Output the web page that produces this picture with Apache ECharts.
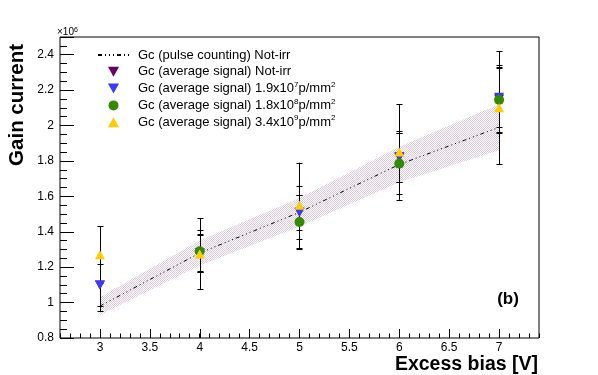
<!DOCTYPE html>
<html>
<head>
<meta charset="utf-8">
<script src="https://cdn.jsdelivr.net/npm/echarts@6/dist/echarts.min.js"></script>
<style>
html, body { margin: 0; padding: 0; background: #fff; }
#chart { width: 598px; height: 375px; }
</style>
</head>
<body>
<div id="chart"></div>
<script>
// bias points (V) and gain (x10^6)
var biasX = [3, 4, 5, 6, 7];
var pulseGain = [0.98, 1.28, 1.51, 1.78, 1.99];
var pulseErr = [0.05, 0.07, 0.08, 0.10, 0.13];

var notIrrGain = [1.10, 1.28, 1.51, 1.82, 2.15];
var notIrrErr = [0.12, 0.10, 0.10, 0.14, 0.19];

var fluence7Gain = [1.10, 1.28, 1.51, 1.825, 2.16];
var fluence7Err = [0.15, 0.11, 0.15, 0.145, 0.17];

var fluence8X = [4, 5, 6, 7];
var fluence8Gain = [1.29, 1.455, 1.785, 2.145];
var fluence8Err = [0.12, 0.155, 0.17, 0.18];

var fluence9Gain = [1.27, 1.275, 1.55, 1.85, 2.10];
var fluence9Err = [0.16, 0.20, 0.24, 0.27, 0.32];

var seriesNames = [
    "Gc (pulse counting) Not-irr",
    "Gc (average signal) Not-irr",
    "Gc (average signal) 1.9x10^7p/mm^2",
    "Gc (average signal) 1.8x10^8p/mm^2",
    "Gc (average signal) 3.4x10^9p/mm^2"
];
var legendLabels = {};
legendLabels[seriesNames[0]] = "Gc (pulse counting) Not-irr";
legendLabels[seriesNames[1]] = "Gc (average signal) Not-irr";
legendLabels[seriesNames[2]] = "Gc (average signal) 1.9x10{sup|7}p/mm{sup|2}";
legendLabels[seriesNames[3]] = "Gc (average signal) 1.8x10{sup|8}p/mm{sup|2}";
legendLabels[seriesNames[4]] = "Gc (average signal) 3.4x10{sup|9}p/mm{sup|2}";

var FONT = "Liberation Sans, Arial, Helvetica, sans-serif";

function points(x, y) {
    var out = [];
    for (var i = 0; i < x.length; i++) out.push([x[i], y[i]]);
    return out;
}
function errRows(x, y, e) {
    var out = [];
    for (var i = 0; i < x.length; i++) out.push([x[i], y[i] - e[i], y[i] + e[i]]);
    return out;
}

// dither pattern like the ROOT fill style
var pat = document.createElement("canvas");
pat.width = 2; pat.height = 2;
var pc = pat.getContext("2d");
pc.fillStyle = "#dccadc";
pc.fillRect(0, 0, 1, 1);
pc.fillRect(1, 1, 1, 1);

function bandItem(params, api) {
    var top = [], bot = [];
    for (var i = 0; i < biasX.length; i++) {
        top.push(api.coord([biasX[i], pulseGain[i] + pulseErr[i]]));
        bot.unshift(api.coord([biasX[i], pulseGain[i] - pulseErr[i]]));
    }
    return {
        type: "polygon",
        shape: { points: top.concat(bot) },
        style: { fill: { image: pat, repeat: "repeat" }, stroke: null }
    };
}

function errorBarItem(params, api) {
    var x = api.value(0);
    var lo = api.coord([x, api.value(1)]);
    var hi = api.coord([x, api.value(2)]);
    var px = Math.round(lo[0]) + 0.5;
    var st = { stroke: "#000", lineWidth: 1 };
    return {
        type: "group",
        children: [
            { type: "line", shape: { x1: px, y1: lo[1], x2: px, y2: hi[1] }, style: st },
            { type: "line", shape: { x1: px - 3, y1: Math.round(lo[1]) + 0.5, x2: px + 3, y2: Math.round(lo[1]) + 0.5 }, style: st },
            { type: "line", shape: { x1: px - 3, y1: Math.round(hi[1]) + 0.5, x2: px + 3, y2: Math.round(hi[1]) + 0.5 }, style: st }
        ]
    };
}

function errSeries(x, y, e) {
    return {
        type: "custom", xAxisIndex: 0, yAxisIndex: 0,
        renderItem: errorBarItem,
        encode: { x: 0, y: [1, 2] },
        data: errRows(x, y, e),
        silent: true
    };
}

var TRI_DOWN = "path://M0,0L10,0L5,9Z";
var TRI_UP = "path://M5,0L10,9L0,9Z";

var chart = echarts.init(document.getElementById("chart"));
var option = {
    animation: false,
    backgroundColor: "#fff",
    textStyle: { fontFamily: FONT },
    grid: [
        { left: 60, right: 59, top: 37, bottom: 37, show: true, borderColor: "#000", borderWidth: 1, backgroundColor: "transparent" },
        { left: 100, right: 99, top: 37, bottom: 37, show: false }
    ],
    xAxis: [
        {
            gridIndex: 0, type: "value", min: 2.6, max: 7.4, interval: 0.1,
            axisLine: { show: false },
            axisTick: { inside: true, length: 4.5, lineStyle: { color: "#000" } },
            axisLabel: { show: false },
            splitLine: { show: false }
        },
        {
            gridIndex: 1, type: "value", min: 3, max: 7, interval: 0.5,
            axisLine: { show: false },
            axisTick: { inside: true, length: 9, lineStyle: { color: "#000" } },
            axisLabel: { color: "#000", fontSize: 12, fontFamily: FONT, margin: 4 },
            splitLine: { show: false }
        }
    ],
    yAxis: [
        {
            gridIndex: 0, type: "value", position: "left", min: 0.8, max: 2.5, interval: 0.2,
            axisLine: { show: false },
            axisTick: { inside: true, length: 14, lineStyle: { color: "#000" } },
            axisLabel: {
                color: "#000", fontSize: 12, fontFamily: FONT, margin: 6,
                formatter: function (v) { return v > 2.45 ? "" : String(Math.round(v * 10) / 10); }
            },
            splitLine: { show: false }
        },
        {
            gridIndex: 0, type: "value", position: "left", min: 0.8, max: 2.5, interval: 0.05,
            axisLine: { show: false },
            axisTick: { inside: true, length: 7, lineStyle: { color: "#000" } },
            axisLabel: { show: false },
            splitLine: { show: false }
        },
        {
            gridIndex: 1, type: "value", min: 0, max: 1, show: false
        }
    ],
    legend: {
        orient: "vertical",
        left: 97, top: 47, padding: 0,
        itemWidth: 31, itemHeight: 10, itemGap: 0.8,
        data: [
            { name: seriesNames[0], itemStyle: { opacity: 0 } },
            seriesNames[1], seriesNames[2], seriesNames[3], seriesNames[4]
        ],
        formatter: function (name) { return legendLabels[name]; },
        textStyle: {
            color: "#000", fontSize: 13, fontFamily: FONT, lineHeight: 16, padding: [0, 0, 0, 4],
            rich: { sup: { fontSize: 8, lineHeight: 8, verticalAlign: "top", fontFamily: FONT, color: "#000" } }
        }
    },
    series: [
        {
            type: "custom", xAxisIndex: 0, yAxisIndex: 0,
            renderItem: bandItem, data: [0], silent: true, z: 1
        },
        {
            name: seriesNames[0], type: "line", xAxisIndex: 0, yAxisIndex: 0,
            data: points(biasX, pulseGain), symbol: "none",
            lineStyle: { color: "#000", width: 1, type: [4, 3, 1, 3, 1, 3, 1, 3] },
            itemStyle: { color: "#000" }, z: 2
        },
        errSeries(biasX, notIrrGain, notIrrErr),
        errSeries(biasX, fluence7Gain, fluence7Err),
        errSeries(fluence8X, fluence8Gain, fluence8Err),
        errSeries(biasX, fluence9Gain, fluence9Err),
        {
            name: seriesNames[1], type: "scatter", xAxisIndex: 0, yAxisIndex: 0,
            data: points(biasX, notIrrGain), symbol: TRI_DOWN, symbolSize: [10, 9],
            itemStyle: { color: "#660066", opacity: 1 }
        },
        {
            name: seriesNames[2], type: "scatter", xAxisIndex: 0, yAxisIndex: 0,
            data: points(biasX, fluence7Gain), symbol: TRI_DOWN, symbolSize: [10, 9],
            itemStyle: { color: "#3939ff", opacity: 1 }
        },
        {
            name: seriesNames[3], type: "scatter", xAxisIndex: 0, yAxisIndex: 0,
            data: points(fluence8X, fluence8Gain), symbol: "circle", symbolSize: 10,
            itemStyle: { color: "#338a00", opacity: 1 }
        },
        {
            name: seriesNames[4], type: "scatter", xAxisIndex: 0, yAxisIndex: 0,
            data: points(biasX, fluence9Gain), symbol: TRI_UP, symbolSize: [10, 9],
            itemStyle: { color: "#ffcc00", opacity: 1 }
        }
    ],
    graphic: [
        {
            type: "text", left: 57, top: 27,
            style: {
                text: "\u00d710{s|6}", fill: "#000", font: "10px " + FONT,
                rich: { s: { fontSize: 7, verticalAlign: "top", lineHeight: 7 } }
            }
        },
        {
            type: "text", x: 17, y: 44, rotation: Math.PI / 2,
            style: { text: "Gain current", fill: "#000", font: "bold 20.5px " + FONT, textAlign: "right", textVerticalAlign: "middle" }
        },
        {
            type: "text", x: 538, y: 365,
            style: { text: "Excess bias [V]", fill: "#000", font: "bold 19.5px " + FONT, textAlign: "right", textVerticalAlign: "middle" }
        },
        {
            type: "text", x: 508, y: 299,
            style: { text: "(b)", fill: "#000", font: "bold 17px " + FONT, textAlign: "center", textVerticalAlign: "middle" }
        }
    ]
};
chart.setOption(option);
</script>
</body>
</html>
